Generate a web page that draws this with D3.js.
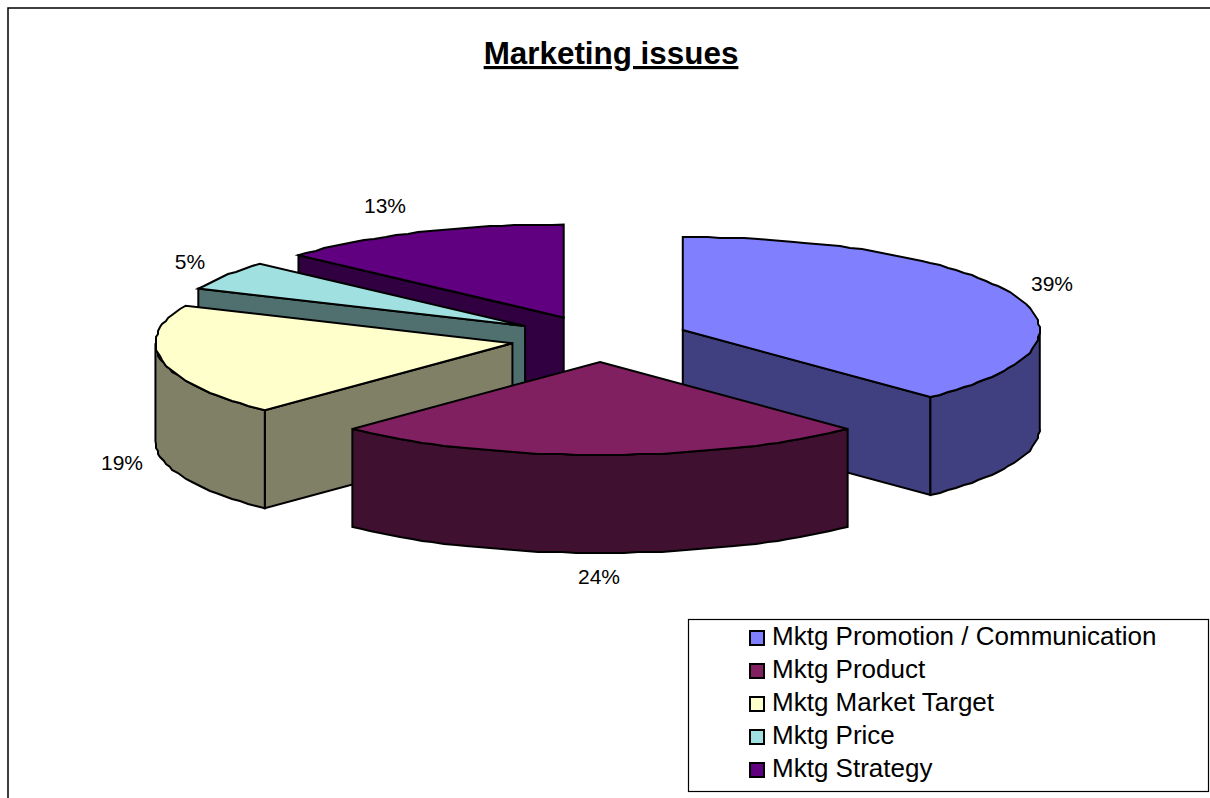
<!DOCTYPE html>
<html><head><meta charset="utf-8">
<script src="https://cdn.jsdelivr.net/npm/d3@7"></script>
<style>html,body{margin:0;padding:0;background:#fff}svg{display:block}text{font-family:"Liberation Sans",Arial,sans-serif;fill:#000}</style>
</head><body><svg id="c" width="1210" height="798"></svg>
<script>
const chartTitle = "Marketing issues";
const categories = ["Mktg Promotion / Communication","Mktg Product","Mktg Market Target","Mktg Price","Mktg Strategy"];
const shares = [37.8,24.4,19.4,5.07,13.33];
const percentLabels = ["39%","24%","19%","5%","13%"];
const topColors = ["#8080FF","#802060","#FFFFCC","#A0E0E0","#600080"];
const wallColors = ["#404080","#401030","#808066","#507070","#300040"];
const labelCenters = [[1052,284],[599,577],[122,463],[190,262],[385,206]];

const svg = d3.select("#c");
const W=1210,H=798;
// chart frame: only top and left edges fall inside the picture
svg.append("path").attr("d",d3.line()([[8,H],[8,8],[W,8]])).attr("fill","none").attr("stroke","#000").attr("stroke-width",1.5);

const title = svg.append("text").attr("x",611).attr("y",64).attr("text-anchor","middle")
  .attr("font-size",31.4).attr("font-weight","bold").attr("text-decoration","underline").text(chartTitle);

const cx=600, cy=338.7, rx=357, ry=93, depth=98, explode=0.25;
const xs=d3.scaleLinear().domain([-1,1]).range([cx-rx,cx+rx]);
const ys=d3.scaleLinear().domain([-1,1]).range([cy-ry,cy+ry]);
const pie=d3.pie().sort(null).startAngle(0).endAngle(2*Math.PI)(shares);
const line=d3.line();
const STEP=Math.PI/90;

const slices=pie.map((p,i)=>{
  const mid=(p.startAngle+p.endAngle)/2;
  const ox=explode*Math.sin(mid), oy=-explode*Math.cos(mid);
  const pt=(a,r=1)=>[xs(ox+r*Math.sin(a)),ys(oy-r*Math.cos(a))];
  return {i,p,mid,pt,apex:pt(0,0)};
});
const down=q=>[q[0],q[1]+depth];
// points on the rim, snapped to whole pixels as in the low-resolution original
function rim(s,a0,a1){
  const n=Math.max(1,Math.round((a1-a0)/STEP));
  return d3.range(n+1).map(k=>{const q=s.pt(a0+(a1-a0)*k/n);return k===0||k===n?q:[Math.round(q[0]/2)*2,Math.round(q[1])];});
}
const stroke=g=>g.attr("stroke","#000").attr("stroke-width",2).attr("stroke-linejoin","miter");
const order=[4,3,2,0,1];
order.forEach(i=>{
  const s=slices[i],a0=s.p.startAngle,a1=s.p.endAngle;
  const g=svg.append("g").attr("class","slice");
  const wall=(pts)=>g.append("path").attr("d",line(pts)+"Z").attr("fill",wallColors[i]).call(stroke);
  if(Math.sin(a0)<-1e-6){const e=s.pt(a0);wall([s.apex,e,down(e),down(s.apex)]);}
  if(Math.sin(a1)>1e-6){const e=s.pt(a1);wall([s.apex,e,down(e),down(s.apex)]);}
  const b0=Math.max(a0,Math.PI/2),b1=Math.min(a1,3*Math.PI/2);
  if(b1>b0){const r=rim(s,b0,b1);wall(r.concat(r.map(down).reverse()));}
  g.append("path").attr("d",line([s.apex].concat(rim(s,a0,a1)))+"Z").attr("fill",topColors[i]).call(stroke);
});

svg.append("g").selectAll("text").data(percentLabels).join("text")
  .attr("x",(d,i)=>labelCenters[i][0]).attr("y",(d,i)=>labelCenters[i][1]+7)
  .attr("text-anchor","middle").attr("font-size",21).text(d=>d);

// legend
svg.append("rect").attr("x",688.5).attr("y",619.5).attr("width",520).attr("height",172)
  .attr("fill","#fff").attr("stroke","#000").attr("stroke-width",1.2);
const ly=d3.scalePoint().domain(categories).range([638,770]);
const lg=svg.append("g").selectAll("g").data(categories).join("g");
lg.append("rect").attr("x",750).attr("y",d=>ly(d)-7).attr("width",14).attr("height",14)
  .attr("fill",(d,i)=>topColors[i]).attr("stroke","#000").attr("stroke-width",2);
lg.append("text").attr("x",772).attr("y",d=>ly(d)+7).attr("font-size",26).text(d=>d);
</script></body></html>
